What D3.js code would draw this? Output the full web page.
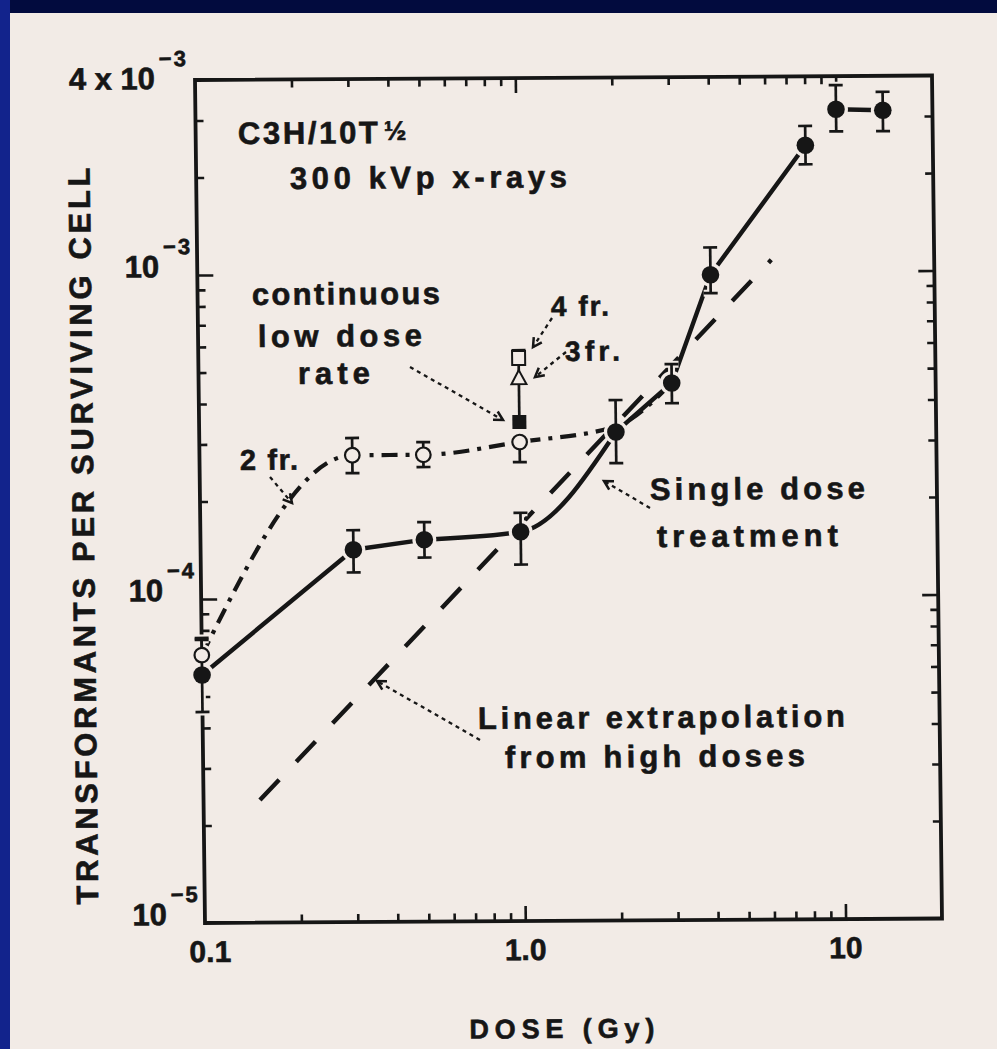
<!DOCTYPE html>
<html>
<head>
<meta charset="utf-8">
<title>Transformants per surviving cell vs dose</title>
<script src="https://cdn.jsdelivr.net/npm/d3@7/dist/d3.min.js"></script>
<style>
  html, body { margin:0; padding:0; background:#f2ebe6; }
  svg { display:block; }
  text { font-family: "Liberation Sans", Arial, Helvetica, sans-serif; font-weight:700; fill:#161616;
         stroke:#161616; stroke-width:0.6px; }
</style>
</head>
<body>
<svg id="chart" width="997" height="1049"></svg>
<script>
// ---------- data ----------
const singleDose   = [0.1, 0.3, 0.5, 1.0, 2.0, 3.0, 4.0, 8.0, 10, 14];
const singleValue  = [5.83e-5, 1.41e-4, 1.51e-4, 1.59e-4, 3.22e-4, 4.55e-4, 9.8e-4, 2.45e-3, 3.16e-3, 3.13e-3];
const singleLow    = [4.48e-5, 1.20e-4, 1.33e-4, 1.26e-4, 2.58e-4, 3.94e-4, 8.6e-4, 2.14e-3, 2.70e-3, 2.70e-3];
const singleHigh   = [7.48e-5, 1.62e-4, 1.71e-4, 1.82e-4, 4.04e-4, 5.20e-4, 1.19e-3, 2.81e-3, 3.75e-3, 3.57e-3];

const splitDose    = [0.1, 0.3, 0.5, 1.0];
const splitValue   = [6.71e-5, 2.76e-4, 2.76e-4, 3.01e-4];
const splitLow     = [6.71e-5, 2.43e-4, 2.53e-4, 2.61e-4];
const splitHigh    = [7.58e-5, 3.12e-4, 3.02e-4, 3.01e-4];

const splitCurveDose  = [0.1, 0.3, 0.5, 1.0, 2.0, 3.0];
const splitCurveValue = [6.71e-5, 2.76e-4, 2.76e-4, 3.01e-4, 3.35e-4, 4.55e-4];

const fracName  = ["continuous low dose rate", "3 fr.", "4 fr."];
const fracDose  = [1.0, 1.0, 1.0];
const fracValue = [3.47e-4, 4.74e-4, 5.47e-4];
const fracHigh  = [4.74e-4, 5.47e-4, 5.78e-4];

const extrapDose  = [0.15, 6.2];
const extrapValue = [2.39e-5, 1.087e-3];

const yTickValue = [4e-3, 1e-3, 1e-4, 1e-5];
const yTickBase  = ["4 x 10", "10", "10", "10"];
const yTickExp   = ["\u22123", "\u22123", "\u22124", "\u22125"];
const xTickValue = [0.1, 1, 10];
const xTickLabel = ["0.1", "1.0", "10"];

const noteText = ["C3H/10T", "\u00BD", "300 kVp x-rays", "continuous", "low dose", "rate",
                  "4 fr.", "3fr.", "2 fr.", "Single dose", "treatment",
                  "Linear extrapolation", "from high doses"];
const yTitle = "TRANSFORMANTS PER SURVIVING CELL";
const xTitle = "DOSE (Gy)";

// ---------- layout / style ----------
const PAGE = "#f2ebe6", INK = "#161616";
const W = 737, H = 843;
const SK = {a:1, b:-0.0061, c:0.01186, d:1, e:195, f:80}; // slight scan skew
const noteLayout = [ // image x, baseline y, font size, text length
  [238,144,31,140],[384,140,27,0],[290,189,31,277],[252,305,31,188],[258,347,31,164],[298,384,31,72],
  [551,316,28,58],[565,361,28,55],[240,470,29,58],[650,500,31,215],[657,547,31,181],
  [478,729,31,367],[505,768,31,300]
];
const arrowLayout = [[410,367,503,420],[552,318,533,347],[566,352,535,377],[270,477,292,503],[650,508,604,481],[480,740,377,681]];

const svg = d3.select("#chart");
svg.append("rect").attr("width",997).attr("height",1049).attr("fill",PAGE);
svg.append("rect").attr("width",997).attr("height",13).attr("fill","#020b3e");
svg.append("rect").attr("width",10).attr("height",1049).attr("fill","#12238c");

const g = svg.append("g").attr("transform",`matrix(${SK.a},${SK.b},${SK.c},${SK.d},${SK.e},${SK.f})`);
function loc(xi, yi){
  let xl = xi - SK.e, yl = yi - SK.f;
  for (let k=0;k<4;k++){ xl = (xi-SK.e) - SK.c*yl; yl = (yi-SK.f) - SK.b*xl; }
  return [xl, yl];
}

const x = d3.scaleLog().domain([0.1, 20]).range([0, W]);
const y = d3.scaleLog().domain([1e-5, 4e-3]).range([H, 0]);

// ---------- axes (inward ticks on all four sides) ----------
const isMajor = v => Math.abs(Math.log10(v) - Math.round(Math.log10(v))) < 1e-9;
const yT = y.ticks().filter(v => v > 1.0001e-5 && v < 3.999e-3);
const xT = x.ticks().filter(v => v > 0.10001 && v < 19.99);
function ax(fn, vals, len, tr){
  const s = g.append("g").attr("transform", tr)
    .call(fn.tickValues(vals).tickSize(-len).tickFormat(""));
  s.select(".domain").remove();
  s.selectAll("text").remove();
  s.selectAll("line").attr("stroke", INK).attr("stroke-width", 2.6);
}
ax(d3.axisLeft(y),  yT.filter(v=>!isMajor(v)), 8,  "translate(0,0)");
ax(d3.axisLeft(y),  yT.filter(isMajor),       16, "translate(0,0)");
ax(d3.axisRight(y), yT.filter(v=>!isMajor(v)), 8,  `translate(${W},0)`);
ax(d3.axisRight(y), yT.filter(isMajor),       16, `translate(${W},0)`);
ax(d3.axisTop(x),   xT.filter(v=>!isMajor(v)), 8,  "translate(0,0)");
ax(d3.axisTop(x),   xT.filter(isMajor),       15, "translate(0,0)");
ax(d3.axisBottom(x),xT.filter(v=>!isMajor(v)), 8,  `translate(0,${H})`);
ax(d3.axisBottom(x),xT.filter(isMajor),       15, `translate(0,${H})`);
g.append("rect").attr("width",W).attr("height",H).attr("fill","none")
  .attr("stroke",INK).attr("stroke-width",3.8);

// ---------- lines ----------
const line = d3.line().x(d=>x(d[0])).y(d=>y(d[1]));
const extrap = extrapDose.map((d,i)=>[d, extrapValue[i]]);
g.append("path").attr("d", line(extrap)).attr("fill","none").attr("stroke",INK)
  .attr("stroke-width",4.4).attr("stroke-dasharray","28,25");

const splitCurve = splitCurveDose.map((d,i)=>[d, splitCurveValue[i]]);
g.append("path").attr("d", line.curve(d3.curveMonotoneX)(splitCurve)).attr("fill","none").attr("stroke",INK)
  .attr("stroke-width",4.2).attr("stroke-dasharray","16,8,4,8");

const single = singleDose.map((d,i)=>[d, singleValue[i]]);
const segs = [[[0,1,2], d3.curveLinear], [[2,3,4], d3.curveMonotoneX], [[4,5,6,7], d3.curveLinear], [[8,9], d3.curveLinear]];
segs.forEach(([idx, cv]) => {
  g.append("path").attr("d", d3.line().x(d=>x(d[0])).y(d=>y(d[1])).curve(cv)(idx.map(i=>single[i])))
    .attr("fill","none").attr("stroke",INK).attr("stroke-width",4.4).attr("stroke-linejoin","round");
});

// ---------- error bars + markers (with paper-coloured knock-out halo) ----------
const bars = [];
singleDose.forEach((d,i)=>bars.push({d, v:singleValue[i], lo:singleLow[i], hi:singleHigh[i], capLo:true, capHi:true}));
splitDose.forEach((d,i)=>bars.push({d, v:splitValue[i], lo:splitLow[i], hi:splitHigh[i], capLo:splitLow[i]<splitValue[i], capHi:splitHigh[i]>splitValue[i]}));
fracDose.forEach((d,i)=>bars.push({d, v:fracValue[i], lo:fracValue[i], hi:fracHigh[i], capLo:false, capHi:!fracValue.includes(fracHigh[i])}));
const CAP = 7;
function drawBars(layer, color, w){
  bars.forEach(b=>{
    const cx = x(b.d);
    if (b.hi > b.lo) layer.append("line").attr("x1",cx).attr("x2",cx).attr("y1",y(b.lo)).attr("y2",y(b.hi))
      .attr("stroke",color).attr("stroke-width",w);
    if (b.capHi) layer.append("line").attr("x1",cx-CAP).attr("x2",cx+CAP).attr("y1",y(b.hi)).attr("y2",y(b.hi)).attr("stroke",color).attr("stroke-width",w);
    if (b.capLo) layer.append("line").attr("x1",cx-CAP).attr("x2",cx+CAP).attr("y1",y(b.lo)).attr("y2",y(b.lo)).attr("stroke",color).attr("stroke-width",w);
  });
}
const halo = g.append("g");
drawBars(halo, PAGE, 7);
singleDose.forEach((d,i)=>halo.append("circle").attr("cx",x(d)).attr("cy",y(singleValue[i])).attr("r",12).attr("fill",PAGE));
splitDose.forEach((d,i)=>halo.append("circle").attr("cx",x(d)).attr("cy",y(splitValue[i])).attr("r",11).attr("fill",PAGE));
fracDose.forEach((d,i)=>halo.append("rect").attr("x",x(d)-10).attr("y",y(fracValue[i])-10).attr("width",20).attr("height",20).attr("fill",PAGE));

const marks = g.append("g");
drawBars(marks, INK, 2.7);
singleDose.forEach((d,i)=>marks.append("circle").attr("cx",x(d)).attr("cy",y(singleValue[i])).attr("r",8.8).attr("fill",INK));
splitDose.forEach((d,i)=>marks.append("circle").attr("cx",x(d)).attr("cy",y(splitValue[i])).attr("r",7.3)
  .attr("fill",PAGE).attr("stroke",INK).attr("stroke-width",2.2));
// continuous low dose rate: filled square; 3 fr.: open triangle; 4 fr.: open square
fracName.forEach((n,i)=>{
  const cx = x(fracDose[i]), cy = y(fracValue[i]);
  if (i===0) marks.append("rect").attr("x",cx-7).attr("y",cy-7).attr("width",14).attr("height",14).attr("fill",INK);
  else if (i===1) marks.append("path").attr("d",`M${cx},${cy-8}L${cx+7.5},${cy+6}L${cx-7.5},${cy+6}Z`)
    .attr("fill",PAGE).attr("stroke",INK).attr("stroke-width",2);
  else marks.append("rect").attr("x",cx-6.5).attr("y",cy-7).attr("width",13).attr("height",14)
    .attr("fill",PAGE).attr("stroke",INK).attr("stroke-width",2);
});

// ---------- annotations ----------
noteText.forEach((t,i)=>{
  const [xi, yi, s, len] = noteLayout[i];
  const [xl, yl] = loc(xi, yi);
  const el = g.append("text").attr("x",xl).attr("y",yl).attr("font-size",s).text(t);
  if (len) el.attr("textLength",len).attr("lengthAdjust","spacing");
});
arrowLayout.forEach(([x1,y1,x2,y2])=>{
  const [a,b] = loc(x1,y1), [c,d] = loc(x2,y2);
  g.append("line").attr("x1",a).attr("y1",b).attr("x2",c).attr("y2",d)
    .attr("stroke",INK).attr("stroke-width",2.3).attr("stroke-dasharray","4,4");
  const ang = Math.atan2(d-b, c-a), L = 10, sp = 0.5;
  g.append("path").attr("d",`M${c-L*Math.cos(ang-sp)},${d-L*Math.sin(ang-sp)}L${c},${d}L${c-L*Math.cos(ang+sp)},${d-L*Math.sin(ang+sp)}`)
    .attr("fill","none").attr("stroke",INK).attr("stroke-width",2.5);
});

// ---------- tick labels ----------
yTickValue.forEach((v,i)=>{
  const yy = y(v) + (i===0 ? 9 : 2);
  const endX = i===0 ? -40 : -38;
  g.append("text").attr("x",endX).attr("y",yy).attr("text-anchor","end").attr("font-size",31)
    .text(yTickBase[i]);
  g.append("text").attr("x",endX+4).attr("y",yy-23).attr("font-size",22).attr("letter-spacing",2).text(yTickExp[i]);
});
xTickValue.forEach((v,i)=>{
  g.append("text").attr("x",x(v) + (i===0 ? 5 : 0)).attr("y",H+39).attr("text-anchor","middle")
    .attr("font-size",30).text(xTickLabel[i]);
});

// ---------- axis titles ----------
{
  const [xl, yl] = loc(94, 536);
  g.append("text").attr("transform",`translate(${xl},${yl}) rotate(-90)`).attr("text-anchor","middle")
    .attr("font-size",31).attr("textLength",737).attr("lengthAdjust","spacing").text(yTitle);
  const [xl2, yl2] = loc(562, 1038);
  g.append("text").attr("x",xl2).attr("y",yl2).attr("text-anchor","middle")
    .attr("font-size",27).attr("textLength",185).attr("lengthAdjust","spacing").text(xTitle);
}
</script>
</body>
</html>
